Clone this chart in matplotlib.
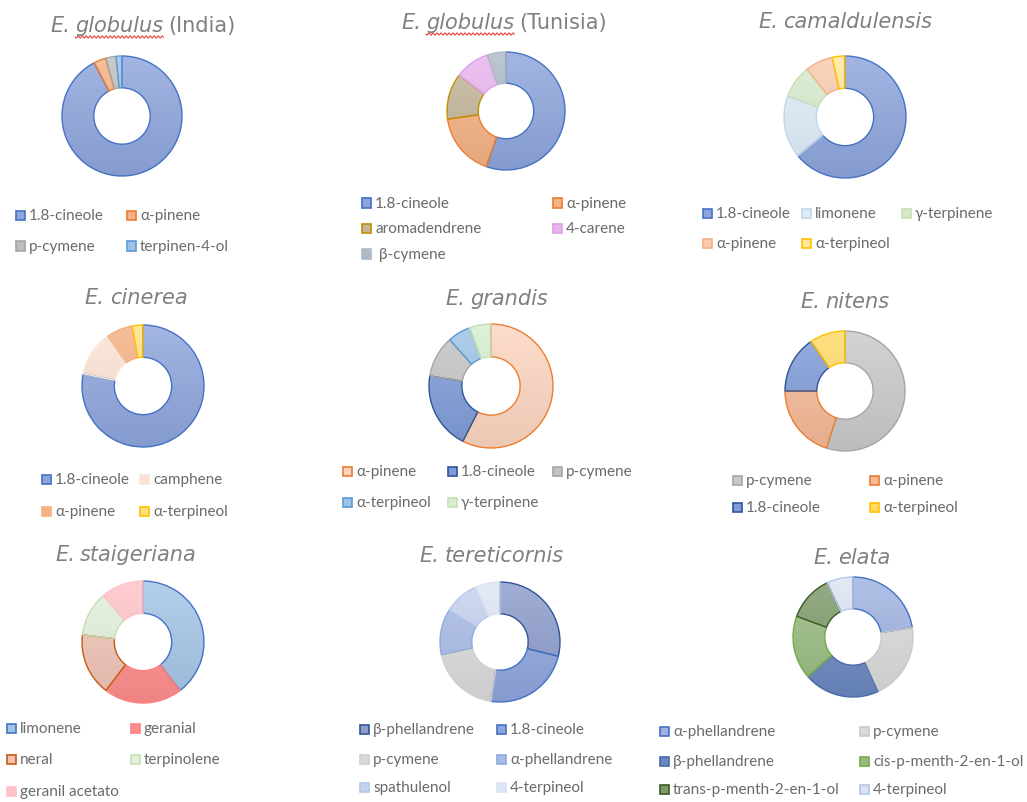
import numpy as np
import matplotlib
matplotlib.use('Agg')
import matplotlib.pyplot as plt
from matplotlib.patches import Rectangle
from matplotlib.lines import Line2D
from matplotlib.colors import to_rgb

plt.rcParams['font.family'] = ['Lato', 'DejaVu Sans']

W, H, DPI = 1027, 803, 100
TITLE_GRAY = '#808080'
TEXT_GRAY = '#6a6a6a'
TITLE_FONT = ['DejaVu Sans']

# --- essential oil composition (%) per species ---
india_labels = ['1.8-cineole', 'α-pinene', 'p-cymene', 'terpinen-4-ol']
india_values = [92.3, 3.3, 2.8, 1.6]
india_fill = ['#8EA5DC', '#F4B183', '#BFBFBF', '#9DC3E6']
india_edge = ['#4472C4', '#ED7D31', '#A5A5A5', '#5B9BD5']

tunisia_labels = ['1.8-cineole', 'α-pinene', 'aromadendrene', '4-carene', ' β-cymene']
tunisia_values = [55.4, 17.4, 12.5, 9.6, 5.1]
tunisia_fill = ['#8EA5DC', '#F4B183', '#C3B59A', '#E8B4EE', '#AEB9C6']
tunisia_edge = ['#4472C4', '#ED7D31', '#BF9000', '#DDA0E8', '#AEB9C6']

camal_labels = ['1.8-cineole', 'limonene', 'γ-terpinene', 'α-pinene', 'α-terpineol']
camal_values = [64.0, 16.6, 8.7, 7.3, 3.4]
camal_fill = ['#8EA5DC', '#DDEBF7', '#D5EBCC', '#F8CBAD', '#FFE699']
camal_edge = ['#4472C4', '#BDD7EE', '#C5E0B4', '#F4B183', '#FFC000']

cinerea_labels = ['1.8-cineole', 'camphene', 'α-pinene', 'α-terpineol']
cinerea_values = [78.2, 12.0, 6.9, 2.9]
cinerea_fill = ['#8EA5DC', '#FBE2D5', '#F4B183', '#FFE080']
cinerea_edge = ['#4472C4', '#FBE5D6', '#F4B183', '#FFC000']

grandis_labels = ['α-pinene', '1.8-cineole', 'p-cymene', 'α-terpineol', 'γ-terpinene']
grandis_values = [57.5, 20.1, 10.8, 5.9, 5.7]
grandis_fill = ['#FCD5C0', '#7F9BD8', '#C4C4C4', '#9DC3E6', '#D5EFD0']
grandis_edge = ['#ED7D31', '#2F5597', '#A5A5A5', '#5B9BD5', '#C5E0B4']

nitens_labels = ['p-cymene', 'α-pinene', '1.8-cineole', 'α-terpineol']
nitens_values = [55.0, 20.0, 15.4, 9.6]
nitens_fill = ['#C9C9C9', '#F4B896', '#7F9BD8', '#FFD966']
nitens_edge = ['#A5A5A5', '#ED7D31', '#2F5597', '#FFC000']

staig_labels = ['limonene', 'geranial', 'neral', 'terpinolene', 'geranil acetato']
staig_values = [39.6, 20.8, 16.5, 11.8, 11.3]
staig_fill = ['#A4C4E6', '#FF8C8C', '#EFC2B4', '#E2EFDA', '#FFC3C8']
staig_edge = ['#4472C4', '#FF8080', '#C55A11', '#C5E0B4', '#FFC3C8']

teret_labels = ['β-phellandrene', '1.8-cineole', 'p-cymene', 'α-phellandrene',
                'spathulenol', '4-terpineol']
teret_values = [28.8, 23.6, 19.2, 12.2, 9.5, 6.7]
teret_fill = ['#8C9CCB', '#8EA5DC', '#DADADA', '#A9BAE6', '#C5D0EE', '#DEE5F4']
teret_edge = ['#2F5597', '#4472C4', '#D0D0D0', '#8FAADC', '#B4C7E7', '#DAE3F3']

elata_labels = ['α-phellandrene', 'p-cymene', 'β-phellandrene', 'cis-p-menth-2-en-1-ol',
                'trans-p-menth-2-en-1-ol', '4-terpineol']
elata_values = [22.5, 20.7, 20.3, 17.1, 12.3, 7.1]
elata_fill = ['#9FB2E0', '#D9D9D9', '#6A87C0', '#98BA80', '#7E9A6B', '#DCE4F4']
elata_edge = ['#4472C4', '#C9C9C9', '#4A6AAA', '#70AD47', '#3B5B25', '#B4C7E7']

# layout of each panel (pixels): donut centre/radius, title pieces, legend grid
panels = [
    dict(c=(122, 117), r=60, title=(143, 26), t=[('E.', 'italic', False), ('globulus', 'italic', True), ('(India)', 'normal', False)],
         labels=india_labels, values=india_values, fill=india_fill, edge=india_edge,
         cols=[16, 127], rows=[216, 247]),
    dict(c=(506, 112), r=59, title=(504, 23), t=[('E.', 'italic', False), ('globulus', 'italic', True), ('(Tunisia)', 'normal', False)],
         labels=tunisia_labels, values=tunisia_values, fill=tunisia_fill, edge=tunisia_edge,
         cols=[362, 553], rows=[204, 229, 255]),
    dict(c=(845, 118), r=61, title=(845, 22), t=[('E.', 'italic', False), ('camaldulensis', 'italic', False)],
         labels=camal_labels, values=camal_values, fill=camal_fill, edge=camal_edge,
         cols=[703, 802, 902], rows=[214, 244]),
    dict(c=(143, 387), r=61, title=(136, 298), t=[('E.', 'italic', False), ('cinerea', 'italic', False)],
         labels=cinerea_labels, values=cinerea_values, fill=cinerea_fill, edge=cinerea_edge,
         cols=[42, 140], rows=[480, 512]),
    dict(c=(491, 387), r=62, title=(497, 299), t=[('E.', 'italic', False), ('grandis', 'italic', False)],
         labels=grandis_labels, values=grandis_values, fill=grandis_fill, edge=grandis_edge,
         cols=[343, 448, 553], rows=[472, 503]),
    dict(c=(845, 392), r=60, title=(845, 302), t=[('E.', 'italic', False), ('nitens', 'italic', False)],
         labels=nitens_labels, values=nitens_values, fill=nitens_fill, edge=nitens_edge,
         cols=[733, 870], rows=[481, 508]),
    dict(c=(143, 643), r=61, title=(126, 555), t=[('E.', 'italic', False), ('staigeriana', 'italic', False)],
         labels=staig_labels, values=staig_values, fill=staig_fill, edge=staig_edge,
         cols=[7, 131], rows=[729, 760, 792]),
    dict(c=(500, 643), r=60, title=(492, 556), t=[('E.', 'italic', False), ('tereticornis', 'italic', False)],
         labels=teret_labels, values=teret_values, fill=teret_fill, edge=teret_edge,
         cols=[360, 497], rows=[730, 760, 788]),
    dict(c=(853, 638), r=60, title=(852, 558), t=[('E.', 'italic', False), ('elata', 'italic', False)],
         labels=elata_labels, values=elata_values, fill=elata_fill, edge=elata_edge,
         cols=[660, 860], rows=[732, 762, 790]),
]

HOLE = 0.47


def px(x, y):
    return x / W, 1 - y / H


def mix(c, other, t):
    c, o = np.array(to_rgb(c)), np.array(to_rgb(other))
    return (1 - t) * c + t * o


fig = plt.figure(figsize=(W / DPI, H / DPI), dpi=DPI)
fig.patch.set_facecolor('white')


def donut(p):
    cx, cy = p['c']
    r = p['r'] + 2
    ax = fig.add_axes([(cx - r) / W, 1 - (cy + r) / H, 2 * r / W, 2 * r / H])
    wedges, _ = ax.pie(p['values'], startangle=90, counterclock=False,
                       wedgeprops=dict(width=1 - HOLE, linewidth=1.0))
    for w, f, e in zip(wedges, p['fill'], p['edge']):
        # soft top-to-bottom shading like office gradient fills
        top, bot = mix(f, 'white', 0.18), mix(f, 'black', 0.06)
        g = np.linspace(0, 1, 64)[:, None, None]
        img = (1 - g) * top + g * bot
        im = ax.imshow(img, extent=(-1, 1, -1, 1), aspect='auto', zorder=1, interpolation='bilinear')
        im.set_clip_path(w)
        w.set_facecolor('none')
        w.set_edgecolor(e)
        w.set_zorder(2)
    lim = p['r'] + 2
    ax.set_xlim(-lim / p['r'], lim / p['r'])
    ax.set_ylim(-lim / p['r'], lim / p['r'])
    ax.set_aspect('equal')
    ax.axis('off')


def title(p):
    cx, cy = p['title']
    size = 15
    texts = [fig.text(0, 0, s, fontsize=size, fontstyle=st, color=TITLE_GRAY,
                      family=TITLE_FONT, ha='left', va='center') for s, st, _ in p['t']]
    ren = fig.canvas.get_renderer()
    widths = [t.get_window_extent(ren).width for t in texts]
    gap = size * 0.25 * DPI / 72
    x = cx - (sum(widths) + gap * (len(widths) - 1)) / 2
    for t, w, (s, st, wavy) in zip(texts, widths, p['t']):
        t.set_position(px(x, cy))
        if wavy:
            xs = np.linspace(x, x + w, 120)
            ys = cy + 12 + 1.1 * np.sin(2 * np.pi * (xs - x) / 4.0)
            fig.add_artist(Line2D(xs / W, 1 - ys / H, color='#E8413A', lw=0.8))
        x += w + gap


def legend(p):
    ncol = len(p['cols'])
    for i, (lab, f, e) in enumerate(zip(p['labels'], p['fill'], p['edge'])):
        x = p['cols'][i % ncol]
        y = p['rows'][i // ncol]
        fig.add_artist(Rectangle(px(x, y + 4.5), 9 / W, 9 / H, transform=fig.transFigure,
                                 facecolor=f, edgecolor=e, lw=1.2))
        fig.text(*px(x + 13, y), lab, fontsize=11, color=TEXT_GRAY, ha='left', va='center')


for p in panels:
    donut(p)
    title(p)
    legend(p)

fig.savefig('out.png', dpi=DPI, facecolor='white')
